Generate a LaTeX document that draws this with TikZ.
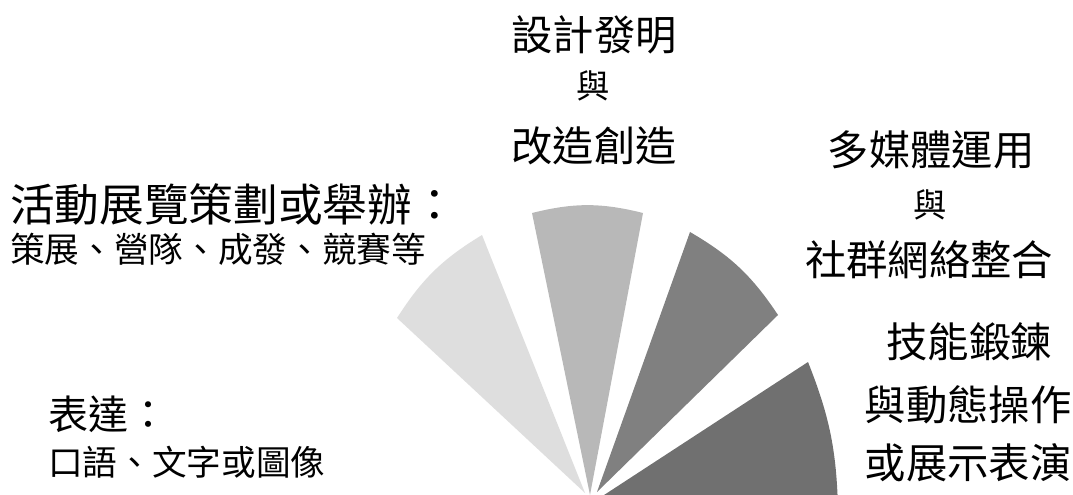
\documentclass[tikz,border=0pt]{standalone}
\usepackage{fontspec}
\newfontfamily\cjk{Noto Sans CJK TC}

\definecolor{fanlight}{gray}{0.87}
\definecolor{fanpale}{gray}{0.72}
\definecolor{fandark}{gray}{0.50}
\definecolor{fandeep}{gray}{0.44}

\tikzset{
  titletext/.style={font=\cjk\fontsize{33.5}{34}\selectfont, inner sep=0pt},
  bigtext/.style={font=\cjk\fontsize{31}{32}\selectfont, inner sep=0pt},
  midtext/.style={font=\cjk\fontsize{30}{31}\selectfont, inner sep=0pt},
  smalltext/.style={font=\cjk\fontsize{26}{27}\selectfont, inner sep=0pt},
  yutext/.style={font=\cjk\fontsize{25}{26}\selectfont, inner sep=0pt}
}

\begin{document}
\begin{tikzpicture}[x=0.75pt,y=-0.75pt]
\useasboundingbox (0,0) rectangle (1073,495);

% fan pieces
\coordinate (apexA) at (585,493);
\coordinate (edgeAa) at (397,318);
\coordinate (edgeAb) at (482,235);
\coordinate (apexB) at (590,495);
\coordinate (edgeBa) at (532,213);
\coordinate (edgeBb) at (643,213);
\coordinate (apexC) at (597,492);
\coordinate (edgeCa) at (690,232);
\coordinate (edgeCb) at (778,315);
\coordinate (apexD) at (601,497);
\coordinate (edgeDa) at (808,362);
\coordinate (edgeDb) at (838,508);

\begin{scope}
\clip (0,0) rectangle (1073,495);
\fill[fanlight] (apexA) -- (edgeAa) to[bend left=13] (edgeAb) -- cycle;
\fill[fanpale] (apexB) -- (edgeBa) to[bend left=14] (edgeBb) -- cycle;
\fill[fandark] (apexC) -- (edgeCa) to[bend left=13] (edgeCb) -- cycle;
\fill[fandeep] (apexD) -- (edgeDa) to[bend left=10] (edgeDb) -- cycle;
\end{scope}

% left labels
\node[titletext, anchor=west] (planhead) at (10,204) {活動展覽策劃或舉辦：};
\node[smalltext, anchor=west] (planlist) at (10,249) {策展、營隊、成發、競賽等};
\node[midtext, anchor=west] (exprhead) at (48,414) {表達：};
\node[smalltext, anchor=west] (exprlist) at (48,462) {口語、文字或圖像};

% top labels
\node[bigtext] (designtop) at (594,35) {設計發明};
\node[yutext] (designand) at (593,86) {與};
\node[bigtext] (designbot) at (594,146) {改造創造};

% right labels
\node[bigtext] (mediatop) at (931,150) {多媒體運用};
\node[yutext] (mediaand) at (930,205) {與};
\node[bigtext] (mediabot) at (929,260) {社群網絡整合};

\node[bigtext] (skilltop) at (969,342) {技能鍛鍊};
\node[bigtext] (skillmid) at (968,405) {與動態操作};
\node[bigtext] (skillbot) at (968,463) {或展示表演};

\end{tikzpicture}
\end{document}
